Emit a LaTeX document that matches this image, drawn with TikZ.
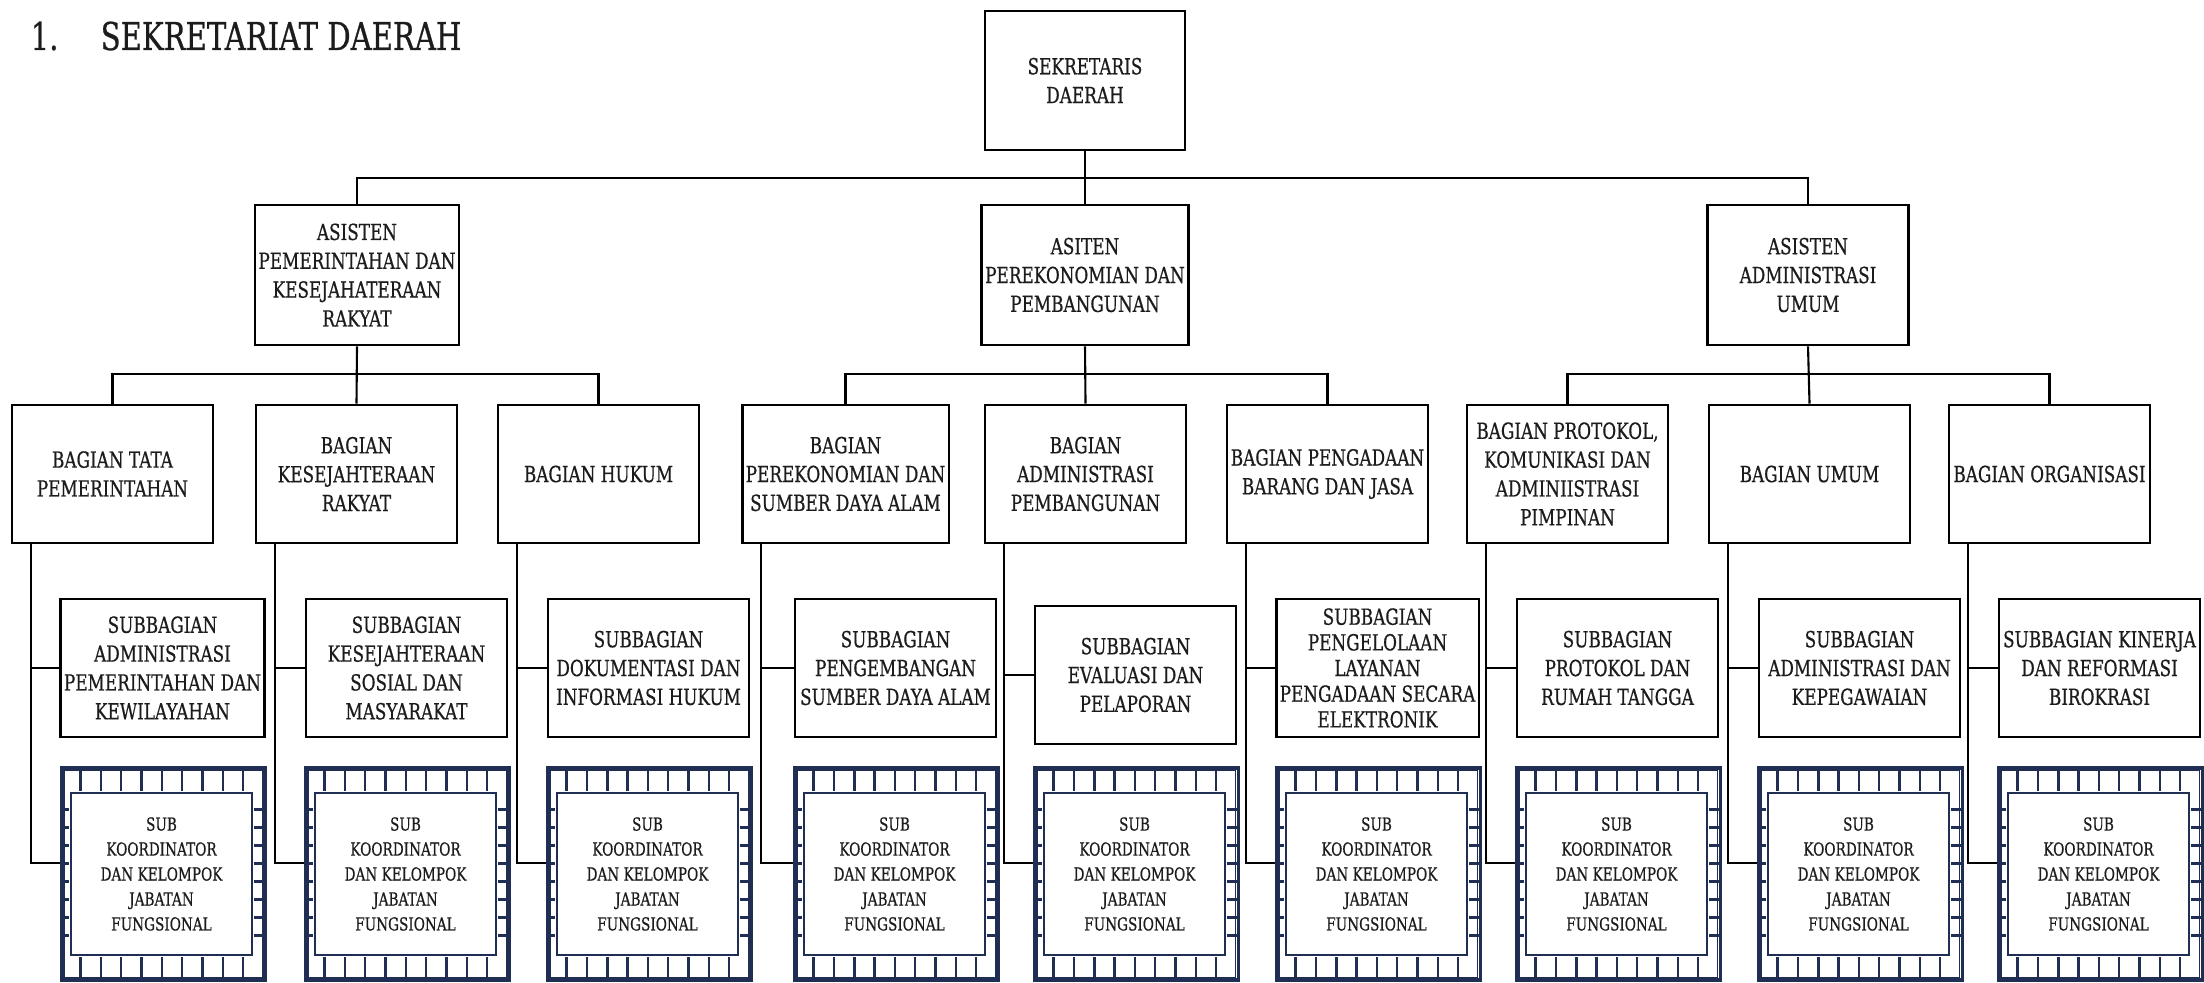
\documentclass[tikz,border=0pt]{standalone}
\usepackage{fontspec}
\usetikzlibrary{calc}
\newfontfamily\orgserif[FakeStretch=0.76, FakeBold=0.6]{DejaVu Serif}
\newcommand\orgboxfont{\orgserif\fontsize{6.3}{8.2}\selectfont}
\newcommand\orgkoorfont{\orgserif\fontsize{5.1}{7.1}\selectfont}
\newcommand\orgtitlefont{\orgserif\fontsize{10.9}{13}\selectfont}
\definecolor{orgNavy}{RGB}{32,46,84}
\definecolor{orgText}{RGB}{28,28,28}

\tikzset{
    unitbox/.style={draw, line width=0.75pt, align=center, inner sep=1pt,
        minimum width=2.01cm, minimum height=1.38cm,
        font=\orgboxfont, text=orgText},
    link/.style={line width=0.6pt},
    koorframe/.style={draw=orgNavy, line width=0.9pt, inner sep=0pt,
        minimum width=2.03cm, minimum height=2.12cm},
    koorbox/.style={draw=orgNavy, fill=white, line width=0.7pt, align=center, inner sep=0pt,
        minimum width=1.81cm, minimum height=1.62cm,
        font=\orgkoorfont, text=orgText},
    tick/.style={orgNavy, line width=0.7pt},
}

\begin{document}
\begin{tikzpicture}[x=0.01cm, y=-0.01cm]

\fill[white] (0,0) rectangle (2204,982);
\useasboundingbox (0,0) rectangle (2204,982);

% title
\node[anchor=base west, inner sep=0pt, font=\orgtitlefont, text=orgText] (num) at (30,50) {1.};
\node[anchor=base west, inner sep=0pt, font=\orgtitlefont, text=orgText] (title) at (100,50) {SEKRETARIAT DAERAH};

% ----------------------------------------------------------------------
% top levels
% ----------------------------------------------------------------------
\node[unitbox, minimum width=2.00cm, minimum height=1.39cm] (sekda) at (1085,80.5) {SEKRETARIS\\DAERAH};

\node[unitbox, minimum height=1.40cm] (as1) at (357,275) {ASISTEN\\PEMERINTAHAN DAN\\KESEJAHATERAAN\\RAKYAT};
\node[unitbox, minimum height=1.40cm] (as2) at (1085,275) {ASITEN\\PEREKONOMIAN DAN\\PEMBANGUNAN};
\node[unitbox, minimum height=1.40cm] (as3) at (1808,275) {ASISTEN\\ADMINISTRASI\\UMUM};

\coordinate (busT) at (1085,178);
\draw[link] (sekda.south) -- (as2.north);
\draw[link] (as1.north) |- (busT) -| (as3.north);

% ----------------------------------------------------------------------
% bagian
% ----------------------------------------------------------------------
\node[unitbox] (bg1) at (112.5,474) {BAGIAN TATA\\PEMERINTAHAN};
\node[unitbox] (bg2) at (356.5,474) {BAGIAN\\KESEJAHTERAAN\\RAKYAT};
\node[unitbox] (bg3) at (598.5,474) {BAGIAN HUKUM};
\node[unitbox] (bg4) at (845.5,474) {BAGIAN\\PEREKONOMIAN DAN\\SUMBER DAYA ALAM};
\node[unitbox] (bg5) at (1085.5,474) {BAGIAN\\ADMINISTRASI\\PEMBANGUNAN};
\node[unitbox] (bg6) at (1327.5,474) {BAGIAN PENGADAAN\\BARANG DAN JASA};
\node[unitbox] (bg7) at (1567.5,474) {BAGIAN PROTOKOL,\\KOMUNIKASI DAN\\ADMINIISTRASI\\PIMPINAN};
\node[unitbox] (bg8) at (1809.5,474) {BAGIAN UMUM};
\node[unitbox] (bg9) at (2049.5,474) {BAGIAN ORGANISASI};

% group buses
\coordinate (busA) at (357,374);
\coordinate (busB) at (1085,374);
\coordinate (busC) at (1808,374);
\draw[link] (as1.south) -- (bg2.north);
\draw[link] (bg1.north) |- (busA) -| (bg3.north);
\draw[link] (as2.south) -- (bg5.north);
\draw[link] (bg4.north) |- (busB) -| (bg6.north);
\draw[link] (as3.south) -- (bg8.north);
\draw[link] (bg7.north) |- (busC) -| (bg9.north);

% ----------------------------------------------------------------------
% subbagian
% ----------------------------------------------------------------------
\node[unitbox] (sb1) at (162.5,668) {SUBBAGIAN\\ADMINISTRASI\\PEMERINTAHAN DAN\\KEWILAYAHAN};
\node[unitbox] (sb2) at (406.5,668) {SUBBAGIAN\\KESEJAHTERAAN\\SOSIAL DAN\\MASYARAKAT};
\node[unitbox] (sb3) at (648.5,668) {SUBBAGIAN\\DOKUMENTASI DAN\\INFORMASI HUKUM};
\node[unitbox] (sb4) at (895.5,668) {SUBBAGIAN\\PENGEMBANGAN\\SUMBER DAYA ALAM};
\node[unitbox] (sb5) at (1135.5,675) {SUBBAGIAN\\EVALUASI DAN\\PELAPORAN};
\node[unitbox, font=\orgserif\fontsize{6.3}{7.3}\selectfont] (sb6) at (1377.5,668) {SUBBAGIAN\\PENGELOLAAN\\LAYANAN\\PENGADAAN SECARA\\ELEKTRONIK};
\node[unitbox] (sb7) at (1617.5,668) {SUBBAGIAN\\PROTOKOL DAN\\RUMAH TANGGA};
\node[unitbox] (sb8) at (1859.5,668) {SUBBAGIAN\\ADMINISTRASI DAN\\KEPEGAWAIAN};
\node[unitbox] (sb9) at (2099.5,668) {SUBBAGIAN KINERJA\\DAN REFORMASI\\BIROKRASI};

% ----------------------------------------------------------------------
% sub koordinator (hatched frames)
% ----------------------------------------------------------------------
\node[koorframe] (kf1) at (163.5,874) {};
\node[koorframe] (kf2) at (407.5,874) {};
\node[koorframe] (kf3) at (649.5,874) {};
\node[koorframe] (kf4) at (896.5,874) {};
\node[koorframe] (kf5) at (1136.5,874) {};
\node[koorframe] (kf6) at (1378.5,874) {};
\node[koorframe] (kf7) at (1618.5,874) {};
\node[koorframe] (kf8) at (1860.5,874) {};
\node[koorframe] (kf9) at (2100.5,874) {};

\foreach \i in {1,...,9} {
    \draw[orgNavy, line width=0.45pt] ($(kf\i.north west)+(4,4)$) rectangle ($(kf\i.south east)+(-4,-4)$);
    \foreach \tk in {1,...,9} {
        \draw[tick] ($(kf\i.north west)+(\tk*20.3,0)$) -- ++(0,25);
        \draw[tick] ($(kf\i.south west)+(\tk*20.3,0)$) -- ++(0,-25);
    }
    \foreach \tj in {1,...,8} {
        \draw[tick] ($(kf\i.north west)+(0,25+\tj*18)$) -- ++(9,0);
        \draw[tick] ($(kf\i.north east)+(0,25+\tj*18)$) -- ++(-13,0);
    }
    \node[koorbox] (kb\i) at ([xshift=-0.02cm]kf\i.center) {SUB\\KOORDINATOR\\DAN KELOMPOK\\JABATAN\\FUNGSIONAL};
    % side connectors
    \draw[link] ([xshift=2mm]bg\i.south west) |- (sb\i.west);
    \draw[link] ([xshift=2mm]bg\i.south west) |- ([yshift=1.1mm]kf\i.west);
}

\end{tikzpicture}
\end{document}
